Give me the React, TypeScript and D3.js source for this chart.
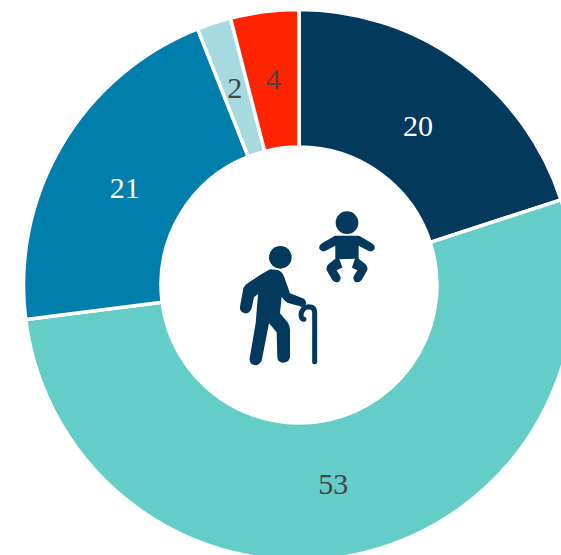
import React from "react";
import * as d3 from "d3";

const categories = ["A", "B", "C", "D", "E"];
const seriesValues = [20, 53, 21, 2, 4];
const sliceColors = ["#02395c", "#65cdc8", "#007eac", "#a6d9e0", "#ff2400"];
const labelColors = ["#ffffff", "#454545", "#ffffff", "#454545", "#454545"];
const labelRadii = [199, 203, 199, 208, 205];
const labelNudgeX = [2, -10, -3, 0, 0];
const labelNudgeY = [1, 0, 4, 0, -3];

const W = 561;
const H = 555;
const CX = 299;
const CY = 285;
const R = 275.5;
const r0 = 138;
const ICON = "#02395c";

export default function App() {
  const pie = d3.pie<number>().sort(null)(seriesValues);
  const arc = d3.arc<d3.PieArcDatum<number>>().innerRadius(r0).outerRadius(R);
  return (
    <svg
      width={W}
      height={H}
      style={{ position: "absolute", left: 0, top: 0, background: "#fff" }}
    >
      <g transform={`translate(${CX},${CY})`}>
        {pie.map((d, i) => (
          <path key={categories[i]} d={arc(d) || ""} fill={sliceColors[i]} stroke="#fff" strokeWidth={3.5} />
        ))}
        {pie.map((d, i) => {
          const a = (d.startAngle + d.endAngle) / 2;
          const rr = labelRadii[i];
          return (
            <text
              key={categories[i]}
              x={Math.sin(a) * rr + labelNudgeX[i]}
              y={-Math.cos(a) * rr + labelNudgeY[i]}
              textAnchor="middle"
              dominantBaseline="central"
              fontFamily="'Liberation Serif', serif"
              fontSize={30}
              fill={labelColors[i]}
            >
              {d.data}
            </text>
          );
        })}
      </g>
      <g transform="translate(220,200) scale(0.3333)" fill={ICON} stroke="none">
        {/* baby */}
        <circle cx={381} cy={68} r={34} />
        <path d="M345 107 L417 107 L456 130 Q468 138 463 148 Q456 158 445 152 L416 137 L416 176 L436 192 Q446 202 441 212 L425 240 Q416 250 405 245 Q397 238 402 227 L412 211 L396 203 L366 203 L350 211 L360 227 Q365 238 357 245 Q346 250 337 240 L321 212 Q316 202 326 192 L346 176 L346 137 L317 152 Q306 158 299 148 Q294 138 306 130 Z" />
        <path d="M358 178 L405 176 L392 214 L372 214 Z" fill="#fff" />
        {/* man */}
        <circle cx={181} cy={172} r={34} />
        <path d="M125 222 L150 208 L174 210 Q188 216 193 232 L210 280 L252 296 Q262 306 256 317 Q248 323 240 319 L202 308 Q192 302 185 290 L180 340 L204 368 Q210 378 210 390 L210 472 Q206 488 190 488 Q173 488 172 472 L170 397 L147 370 L125 482 Q116 498 102 495 Q87 490 89 475 L107 370 L114 282 L102 292 L95 325 Q89 342 75 340 Q58 336 60 320 L70 265 Q73 255 85 248 Z" />
        <path d="M284 485 L284 338 Q284 320 266 320 Q245 322 243 345 Q244 358 252 358" fill="none" stroke={ICON} strokeWidth={15} strokeLinecap="round" />
      </g>
    </svg>
  );
}
